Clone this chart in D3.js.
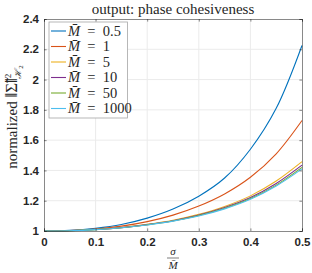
<!DOCTYPE html>
<html>
<head>
<meta charset="utf-8">
<script src="https://cdn.jsdelivr.net/npm/d3@7"></script>
<style>
  body { margin: 0; background: #fff; }
  svg { display: block; }
</style>
</head>
<body>
<div id="chart"></div>
<script>
// data
const sigma = [0, 0.05, 0.1, 0.15, 0.2, 0.25, 0.3, 0.35, 0.4, 0.45, 0.5];
const m05   = [1, 1.004, 1.018, 1.043, 1.085, 1.145, 1.23, 1.35, 1.54, 1.81, 2.225];
const m1    = [1, 1.003, 1.013, 1.032, 1.062, 1.105, 1.165, 1.245, 1.355, 1.51, 1.73];
const m5    = [1, 1.002, 1.010, 1.023, 1.044, 1.071, 1.11, 1.162, 1.232, 1.33, 1.458];
const m10   = [1, 1.002, 1.0096, 1.022, 1.042, 1.068, 1.105, 1.155, 1.221, 1.314, 1.435];
const m50   = [1, 1.002, 1.009, 1.021, 1.041, 1.066, 1.102, 1.15, 1.214, 1.303, 1.42];
const m1000 = [1, 1.002, 1.009, 1.021, 1.040, 1.065, 1.099, 1.146, 1.209, 1.297, 1.41];
const legendLabels = ["0.5", "1", "5", "10", "50", "1000"];
const colors = ["#0072BD", "#D95319", "#EDB120", "#7E2F8E", "#77AC30", "#4DBEEE"];
const xTicks = [0, 0.1, 0.2, 0.3, 0.4, 0.5];
const yTicks = [1, 1.2, 1.4, 1.6, 1.8, 2, 2.2, 2.4];

const series = [m05, m1, m5, m10, m50, m1000];

const width = 312, height = 273;
const margin = { left: 44, right: 10, top: 19, bottom: 42 };

const svg = d3.select("#chart")
  .append("svg")
  .attr("width", width)
  .attr("height", height);

const x = d3.scaleLinear().domain([0, 0.5]).range([margin.left, width - margin.right]);
const y = d3.scaleLinear().domain([1, 2.4]).range([height - margin.bottom, margin.top]);

// grid
svg.append("g")
  .selectAll("line")
  .data(xTicks.slice(1, -1))
  .join("line")
  .attr("x1", d => x(d)).attr("x2", d => x(d))
  .attr("y1", y(1)).attr("y2", y(2.4))
  .style("stroke", "#ebebeb");

svg.append("g")
  .selectAll("line")
  .data(yTicks.slice(1, -1))
  .join("line")
  .attr("x1", x(0)).attr("x2", x(0.5))
  .attr("y1", d => y(d)).attr("y2", d => y(d))
  .style("stroke", "#ebebeb");

// curves
const line = d3.line()
  .x((d, i) => x(sigma[i]))
  .y(d => y(d))
  .curve(d3.curveCatmullRom.alpha(0.5));

svg.append("g")
  .selectAll("path")
  .data(series)
  .join("path")
  .attr("d", line)
  .style("fill", "none")
  .style("stroke", (d, i) => colors[i])
  .style("stroke-width", 1.1);

// axes (ticks inside, box on)
const axisColor = "#262626";
const tickLen = 2.6;

const axBottom = svg.append("g")
  .attr("transform", `translate(0,${y(1)})`)
  .call(d3.axisBottom(x).tickValues(xTicks).tickSize(-tickLen).tickPadding(7).tickFormat(d3.format("")));
const axLeft = svg.append("g")
  .attr("transform", `translate(${x(0)},0)`)
  .call(d3.axisLeft(y).tickValues(yTicks).tickSize(-tickLen).tickPadding(5).tickFormat(d3.format("")));
const axTop = svg.append("g")
  .attr("transform", `translate(0,${y(2.4)})`)
  .call(d3.axisTop(x).tickValues(xTicks).tickSize(-tickLen).tickFormat(""));
const axRight = svg.append("g")
  .attr("transform", `translate(${x(0.5)},0)`)
  .call(d3.axisRight(y).tickValues(yTicks).tickSize(-tickLen).tickFormat(""));

[axBottom, axLeft, axTop, axRight].forEach(g => {
  g.selectAll("path, line").style("stroke", axisColor).style("stroke-width", 0.55);
  g.selectAll("text")
    .style("font-family", "'Liberation Sans', Arial, sans-serif")
    .style("font-weight", "bold")
    .style("font-size", "11.5px")
    .style("fill", axisColor);
});

// title
svg.append("text")
  .attr("x", (x(0) + x(0.5)) / 2)
  .attr("y", 14)
  .attr("text-anchor", "middle")
  .style("font-family", "'Liberation Serif', serif")
  .style("font-size", "15px")
  .style("fill", axisColor)
  .text("output: phase cohesiveness");

// y label
const ylab = svg.append("text")
  .attr("transform", `translate(17,117) rotate(-90)`)
  .attr("text-anchor", "middle")
  .style("font-family", "'Liberation Serif', serif")
  .style("font-size", "15px")
  .style("fill", axisColor);
ylab.append("tspan").text("normalized ");
ylab.append("tspan").style("font-size", "17px").text("‖Σ̃‖");
ylab.append("tspan").attr("dy", -6).style("font-size", "9px").text("2");
ylab.append("tspan").attr("dx", -5).attr("dy", 10).style("font-size", "9px").style("font-style", "italic").text("ℋ");
ylab.append("tspan").attr("dy", 2).style("font-size", "7px").text("2");

// x label: sigma over M-bar
const xc = (x(0) + x(0.5)) / 2;
svg.append("text")
  .attr("x", xc).attr("y", 255)
  .attr("text-anchor", "middle")
  .style("font-family", "'Liberation Serif', serif")
  .style("font-style", "italic")
  .style("font-size", "11px")
  .style("fill", axisColor)
  .text("σ");
svg.append("line")
  .attr("x1", xc - 6).attr("x2", xc + 6)
  .attr("y1", 258).attr("y2", 258)
  .style("stroke", axisColor).style("stroke-width", 0.6);
svg.append("text")
  .attr("x", xc).attr("y", 269)
  .attr("text-anchor", "middle")
  .style("font-family", "'Liberation Serif', serif")
  .style("font-style", "italic")
  .style("font-size", "11px")
  .style("fill", axisColor)
  .text("M̄");

// legend
const legend = svg.append("g").attr("transform", "translate(49,22)");
legend.append("rect")
  .attr("width", 78.5).attr("height", 96)
  .style("fill", "#fff")
  .style("stroke", "#a6a6a6")
  .style("stroke-width", 0.8);

const items = legend.selectAll("g.item")
  .data(legendLabels)
  .join("g")
  .attr("class", "item")
  .attr("transform", (d, i) => `translate(0,${9 + i * 15.5})`);

items.append("line")
  .attr("x1", 2).attr("x2", 17)
  .style("stroke", (d, i) => colors[i])
  .style("stroke-width", 1.1);

const labels = items.append("text")
  .attr("x", 19).attr("y", 4.5)
  .style("font-family", "'Liberation Serif', serif")
  .style("font-size", "14.5px")
  .style("fill", axisColor);
labels.append("tspan").style("font-style", "italic").text("M̄");
labels.append("tspan").text(d => "\u2002=\u2002" + d);
</script>
</body>
</html>
